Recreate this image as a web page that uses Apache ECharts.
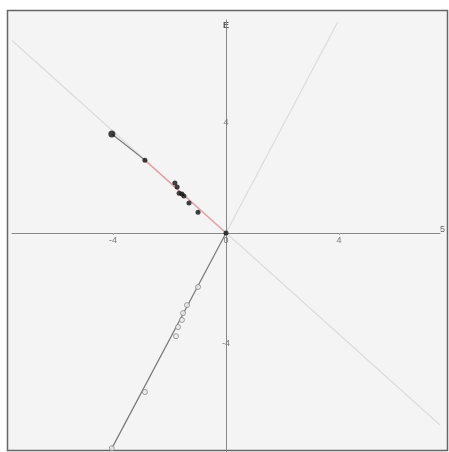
<!DOCTYPE html>
<html>
<head>
<meta charset="utf-8">
<script src="https://cdn.jsdelivr.net/npm/echarts@6/dist/echarts.min.js"></script>
<style>
  html, body { margin: 0; padding: 0; background: #fff; }
  #chart { width: 449px; height: 452px; }
</style>
</head>
<body>
<div id="chart"></div>
<script>
// filled points (path toward origin)
const pathX = [-4.04, -2.87, -1.81, -1.73, -1.66, -1.56, -1.49, -1.31, -0.99, 0];
const pathY = [3.6, 2.65, 1.82, 1.67, 1.45, 1.42, 1.35, 1.09, 0.76, 0];
// open points along the steep line
const openX = [-0.99, -1.38, -1.52, -1.56, -1.70, -1.77, -2.87, -4.04];
const openY = [-1.96, -2.62, -2.91, -3.16, -3.42, -3.75, -5.78, -7.82];
// reference lines through the origin
const diagA = [[-7.575, 7.0], [7.575, -6.98]];
const steepUp = [[0, 0], [3.96, 7.68]];
const steepDown = [[0, 0], [-4.08, -7.9]];
const grayLeg = [[-4.04, 3.6], [-2.87, 2.65]];
const redLeg = [[-2.87, 2.65], [0, 0]];
// axis ticks
const xTicks = [-4, 0, 4];
const yTicks = [-4, 4];

const chart = echarts.init(document.getElementById('chart'));

function seg(data, color, width) {
  return {
    type: 'line',
    data: data,
    showSymbol: false,
    silent: true,
    lineStyle: { color: color, width: width },
    z: 1,
  };
}

chart.setOption({
  animation: false,
  graphic: [
    {
      type: 'rect',
      shape: { x: 7.5, y: 10.5, width: 440, height: 440 },
      style: { fill: '#f4f4f4', stroke: '#666', lineWidth: 1.5 },
      z: -100,
      silent: true,
    },
  ],
  grid: { left: 12, right: 9, top: 20, bottom: 0 },
  xAxis: {
    type: 'value',
    min: -7.575,
    max: 7.575,
    position: 'bottom',
    offset: -219, // sit on y = 0
    name: '5',
    nameLocation: 'end',
    nameGap: 0,
    nameTextStyle: { color: '#666', fontSize: 9, verticalAlign: 'bottom', padding: [0, 0, -1, 0] },
    splitLine: { show: false },
    axisLine: { onZero: false, lineStyle: { color: '#888', width: 1 } },
    axisTick: { show: true, length: 2, customValues: xTicks, lineStyle: { color: '#aaa' } },
    axisLabel: { customValues: xTicks, color: '#777', fontSize: 9, margin: 3, formatter: v => String(v) },
  },
  yAxis: {
    type: 'value',
    min: -7.96,
    max: 7.745,
    position: 'left',
    offset: -214, // sit on x = 0
    name: 'E',
    nameLocation: 'end',
    nameGap: -10,
    nameTextStyle: { color: '#555', fontSize: 9, fontWeight: 'bold', align: 'center' },
    splitLine: { show: false },
    axisLine: { onZero: false, lineStyle: { color: '#888', width: 1 } },
    axisTick: { show: false },
    axisLabel: { customValues: yTicks, color: '#777', fontSize: 9, margin: 0, align: 'center', formatter: v => String(v) },
  },
  series: [
    seg(diagA, '#dcdcdc', 1.2),
    seg(steepUp, '#dcdcdc', 1.2),
    seg(steepDown, '#777', 1.2),
    seg(grayLeg, '#777', 1.2),
    seg(redLeg, '#e3a3ab', 1.5),
    {
      type: 'scatter',
      data: openX.map((x, i) => [x, openY[i]]),
      symbol: 'circle',
      symbolSize: 5,
      itemStyle: { color: '#eee', borderColor: '#888', borderWidth: 1 },
      z: 3,
    },
    {
      type: 'scatter',
      data: pathX.map((x, i) => [x, pathY[i]]),
      symbol: 'circle',
      symbolSize: (v, p) => (p.dataIndex === 0 ? 7 : 5),
      itemStyle: { color: '#111' },
      z: 4,
    },
  ],
});
</script>
</body>
</html>
